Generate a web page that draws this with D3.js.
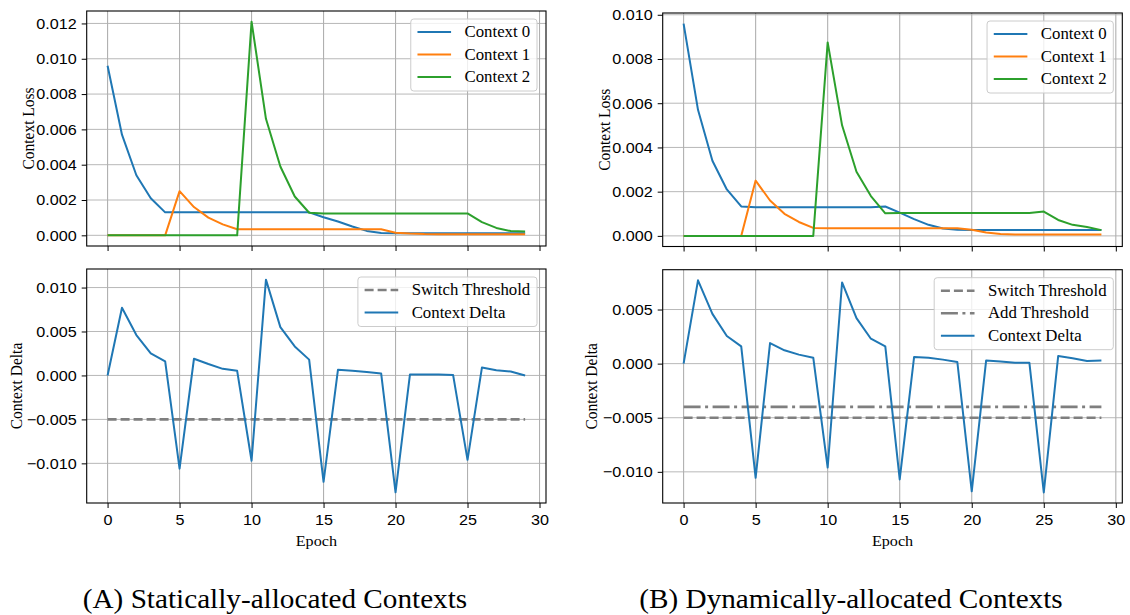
<!DOCTYPE html>
<html>
<head>
<meta charset="utf-8">
<script src="https://d3js.org/d3.v7.min.js"></script>
<style>
  body { margin:0; background:#fff; }
  svg { display:block; font-family:"Liberation Serif","Times New Roman",serif; }
  .tick line { stroke:#000; }
</style>
</head>
<body>
<div id="canvas"></div>
<script>
//data
var epochs = [0,1,2,3,4,5,6,7,8,9,10,11,12,13,14,15,16,17,18,19,20,21,22,23,24,25,26,27,28,29];
var xTicks = [0,5,10,15,20,25,30];

//(A) statically-allocated contexts
var lossStatic0 = [0.0096,0.0057,0.0034,0.0021,0.0013,0.0013,0.0013,0.0013,0.0013,0.0013,
  0.0013,0.0013,0.0013,0.0013,0.0013,0.00102,0.00078,0.0005,0.00025,0.00013,
  0.00012,0.00012,0.00012,0.00012,0.00012,0.00012,0.00012,0.00012,0.00012,0.00012];
var lossStatic1 = [0,0,0,0,0,0.0025,0.0016,0.001,0.00062,0.00034,
  0.00034,0.00034,0.00034,0.00034,0.00034,0.00034,0.00034,0.00034,0.00034,0.00034,
  0.00015,0.0001,0.00007,0.00006,0.00006,0.00006,0.00006,0.00006,0.00006,0.00006];
var lossStatic2 = [0,0,0,0,0,0,0,0,0,0,
  0.0121,0.0066,0.0039,0.0022,0.00128,0.00124,0.00124,0.00124,0.00124,0.00124,
  0.00124,0.00124,0.00124,0.00124,0.00124,0.00124,0.00075,0.00042,0.00024,0.00022];
var deltaStatic = [0,0.0077,0.0046,0.0025,0.0016,-0.0106,0.0019,0.0013,0.00075,0.00053,
  -0.0097,0.0109,0.0055,0.0033,0.0018,-0.0121,0.00064,0.00053,0.0004,0.00023,
  -0.0133,0.0001,0.0001,0.0001,0.00004,-0.0096,0.0009,0.0006,0.00045,0];

//(B) dynamically-allocated contexts
var lossDynamic0 = [0.0096,0.0057,0.0034,0.0021,0.00133,0.0013,0.0013,0.0013,0.0013,0.0013,
  0.0013,0.0013,0.0013,0.0013,0.00133,0.00105,0.00076,0.0005,0.00033,0.00028,
  0.00027,0.00027,0.00027,0.00027,0.00027,0.00027,0.00027,0.00027,0.00027,0.00027];
var lossDynamic1 = [0,0,0,0,0,0.0025,0.0016,0.001,0.00063,0.00036,
  0.00034,0.00034,0.00034,0.00034,0.00034,0.00034,0.00034,0.00034,0.00034,0.00034,
  0.00028,0.00015,0.00009,0.00006,0.00006,0.00006,0.00006,0.00006,0.00006,0.00006];
var lossDynamic2 = [0,0,0,0,0,0,0,0,0,0,
  0.00875,0.005,0.0029,0.0018,0.00102,0.00103,0.00103,0.00103,0.00103,0.00103,
  0.00103,0.00103,0.00103,0.00103,0.00103,0.0011,0.00072,0.0005,0.0004,0.00026];
var deltaDynamic = [0,0.0077,0.0046,0.00255,0.0016,-0.01055,0.0019,0.00123,0.00083,0.00055,
  -0.0096,0.0075,0.0042,0.0023,0.0016,-0.0107,0.00062,0.00055,0.00037,0.00015,
  -0.0118,0.0003,0.0002,0.00009,0.00009,-0.0119,0.0007,0.0005,0.00025,0.0003];

var switchThreshold = -0.005;
var addThreshold = -0.004;

var lossTicksStatic = [0,0.002,0.004,0.006,0.008,0.010,0.012];
var lossTicksDynamic = [0,0.002,0.004,0.006,0.008,0.010];
var deltaTicksStatic = [-0.010,-0.005,0,0.005,0.010];
var deltaTicksDynamic = [-0.010,-0.005,0,0.005];

var contextNames = ['Context 0','Context 1','Context 2'];
var captions = ['(A) Statically-allocated Contexts','(B) Dynamically-allocated Contexts'];

var colors = ['#1f77b4','#ff7f0e','#2ca02c'];
var grey = '#7f7f7f';
var SX = 1.07; //the picture is a little stretched sideways, text follows
var tickFs = 15.1;

var W = 1130, H = 615;
var svg = d3.select('#canvas').append('svg')
  .attr('width', W).attr('height', H);

function txt(g, x, y, s, size, anchor, rot){
  return g.append('text')
    .attr('transform','translate(' + x + ',' + y + ') scale(' + SX + ',1)' + (rot ? ' rotate(-90)' : ''))
    .attr('text-anchor', anchor)
    .style('font-size', size + 'px')
    .text(s);
}

function panel(o){
  var g = svg.append('g');
  var xExt = d3.extent(epochs), xPad = (xExt[1]-xExt[0])*0.05;
  var x = d3.scaleLinear().domain([xExt[0]-xPad, xExt[1]+xPad]).range([o.x0, o.x1]);
  var all = [];
  o.lines.forEach(function(l){ all = all.concat(l.values); });
  var yExt = d3.extent(all), yPad = (yExt[1]-yExt[0])*0.05;
  var y = d3.scaleLinear().domain([yExt[0]-yPad, yExt[1]+yPad]).range([o.y1, o.y0]);

  //grid
  g.selectAll('.vg').data(xTicks).enter().append('line')
    .attr('x1', function(d){ return x(d); }).attr('x2', function(d){ return x(d); })
    .attr('y1', o.y0).attr('y2', o.y1)
    .attr('stroke','#b0b0b0').attr('stroke-width',1.1);
  g.selectAll('.hg').data(o.yTicks).enter().append('line')
    .attr('x1', o.x0).attr('x2', o.x1)
    .attr('y1', function(d){ return y(d); }).attr('y2', function(d){ return y(d); })
    .attr('stroke','#b0b0b0').attr('stroke-width',0.9);

  //threshold lines
  o.hlines.forEach(function(h){
    g.append('path')
      .attr('d', d3.line()([[x(xExt[0]), y(h.value)], [x(xExt[1]), y(h.value)]]))
      .attr('fill','none').attr('stroke',grey).attr('stroke-width',2.6)
      .attr('stroke-dasharray', h.dash);
  });

  //series
  var line = d3.line()
    .x(function(d,i){ return x(epochs[i]); })
    .y(function(d){ return y(d); });
  o.lines.forEach(function(l){
    g.append('path').datum(l.values)
      .attr('d', line)
      .attr('fill','none').attr('stroke', l.color).attr('stroke-width',2)
      .attr('stroke-linejoin','round');
  });

  //axes
  var ax = g.append('g').attr('transform','translate(0,' + o.y1 + ')')
    .call(d3.axisBottom(x).tickValues(xTicks).tickSize(5).tickPadding(5.9)
      .tickFormat(o.xLabels ? d3.format('d') : ''));
  var ay = g.append('g').attr('transform','translate(' + o.x0 + ',0)')
    .call(d3.axisLeft(y).tickValues(o.yTicks).tickSize(5).tickPadding(4.3).tickFormat(d3.format('.3f')));
  [ax, ay].forEach(function(a){
    a.select('.domain').remove();
    a.selectAll('text').attr('transform','scale(' + SX + ',1)')
      .style('font-size', tickFs + 'px').style('font-family','inherit').attr('fill','#000');
    a.selectAll('line').attr('stroke-width',1);
  });

  //frame
  g.append('rect').attr('x',o.x0).attr('y',o.y0)
    .attr('width',o.x1-o.x0).attr('height',o.y1-o.y0)
    .attr('fill','none').attr('stroke','#000').attr('stroke-width',1.1);

  txt(g, o.labelX, (o.y0+o.y1)/2, o.yLabel, 15.5, 'middle', true).attr('dy','0.35em');
  if (o.xLabels) txt(g, (o.x0+o.x1)/2, 546, 'Epoch', tickFs, 'middle', false);

  //legend
  var fs = 15.7, rowH = 22.5, n = o.legend.length;
  var lg = g.append('g');
  var box = lg.append('rect');
  var lens = [];
  var top = o.y0 + 8;
  o.legend.forEach(function(it, i){
    var t = txt(lg, 0, top + 13 + i*rowH + 5.2, it.name, fs, 'start', false);
    lens.push(t.node().getComputedTextLength()*SX);
    it.node = t;
  });
  var boxW = SX*fs*3.6 + d3.max(lens);
  var bx = o.x1 - 9 - boxW;
  box.attr('x',bx).attr('y',top).attr('width',boxW).attr('height',13 + rowH*(n-1) + 14)
    .attr('rx',3).attr('fill','#fff').attr('fill-opacity',0.8)
    .attr('stroke','#cccccc').attr('stroke-width',1);
  o.legend.forEach(function(it, i){
    var ly = top + 13 + i*rowH;
    lg.append('line')
      .attr('x1', bx + SX*fs*0.4).attr('x2', bx + SX*fs*2.4)
      .attr('y1', ly).attr('y2', ly)
      .attr('stroke', it.color).attr('stroke-width', it.dash ? 2.6 : 2)
      .attr('stroke-dasharray', it.dash || null);
    it.node.attr('transform','translate(' + (bx + SX*fs*3.2) + ',' + (ly + 5.2) + ') scale(' + SX + ',1)');
  });
}

var dashed = '9,4', dashDot = '17,4.5,3,4.5';

function contextLines(a, b, c){
  return [a,b,c].map(function(v,i){ return {values:v, color:colors[i], name:contextNames[i]}; });
}

var sl = contextLines(lossStatic0, lossStatic1, lossStatic2);
panel({x0:86.7, x1:546, y0:11, y1:246, lines:sl, hlines:[], yTicks:lossTicksStatic,
  xLabels:false, yLabel:'Context Loss', labelX:28, legend:sl});

panel({x0:86.7, x1:546, y0:269, y1:503,
  lines:[{values:deltaStatic, color:colors[0]}],
  hlines:[{value:switchThreshold, dash:dashed}],
  yTicks:deltaTicksStatic, xLabels:true, yLabel:'Context Delta', labelX:16,
  legend:[{name:'Switch Threshold', color:grey, dash:dashed},{name:'Context Delta', color:colors[0]}]});

var dl = contextLines(lossDynamic0, lossDynamic1, lossDynamic2);
panel({x0:662.7, x1:1122.3, y0:13, y1:246.5, lines:dl, hlines:[], yTicks:lossTicksDynamic,
  xLabels:false, yLabel:'Context Loss', labelX:604, legend:dl});

panel({x0:662.7, x1:1122.3, y0:269.7, y1:503,
  lines:[{values:deltaDynamic, color:colors[0]}],
  hlines:[{value:switchThreshold, dash:dashed},{value:addThreshold, dash:dashDot}],
  yTicks:deltaTicksDynamic, xLabels:true, yLabel:'Context Delta', labelX:591.5,
  legend:[{name:'Switch Threshold', color:grey, dash:dashed},{name:'Add Threshold', color:grey, dash:dashDot},
    {name:'Context Delta', color:colors[0]}]});

//captions
txt(svg, 275, 608, captions[0], 27.3, 'middle', false);
txt(svg, 851, 608, captions[1], 27.3, 'middle', false);
</script>
</body>
</html>
